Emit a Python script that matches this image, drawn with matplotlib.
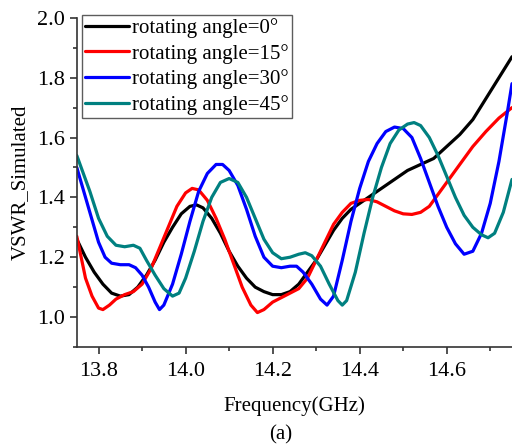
import numpy as np
import matplotlib
matplotlib.use('Agg')
import matplotlib.pyplot as plt
from matplotlib.ticker import MultipleLocator

plt.rcParams['font.family'] = ['Liberation Serif', 'DejaVu Serif']

# ---------------------------------------------------------------
# data (frequency in GHz, VSWR)
# ---------------------------------------------------------------
f_0 = [13.75, 13.77, 13.79, 13.81, 13.83, 13.85, 13.87, 13.89, 13.91, 13.93,
       13.95, 13.97, 13.99, 14.01, 14.025, 14.04, 14.06, 14.08, 14.10, 14.12,
       14.14, 14.16, 14.18, 14.20, 14.22, 14.24, 14.26, 14.28, 14.30, 14.32,
       14.34, 14.36, 14.38, 14.40, 14.42, 14.45, 14.48, 14.51, 14.54, 14.57,
       14.60, 14.63, 14.66, 14.69, 14.72, 14.75]
v_0 = [1.26, 1.20, 1.15, 1.11, 1.08, 1.07, 1.075, 1.10, 1.14, 1.19,
       1.25, 1.30, 1.345, 1.37, 1.375, 1.365, 1.33, 1.28, 1.22, 1.17,
       1.13, 1.10, 1.085, 1.075, 1.075, 1.085, 1.11, 1.15, 1.19, 1.24,
       1.29, 1.33, 1.36, 1.38, 1.40, 1.43, 1.46, 1.49, 1.51, 1.53,
       1.57, 1.61, 1.66, 1.73, 1.80, 1.87]

f_15 = [13.75, 13.76, 13.77, 13.785, 13.80, 13.81, 13.825, 13.84, 13.86, 13.88,
        13.90, 13.92, 13.94, 13.96, 13.98, 14.00, 14.015, 14.03, 14.05, 14.07,
        14.09, 14.11, 14.13, 14.15, 14.165, 14.18, 14.20, 14.22, 14.24, 14.26,
        14.28, 14.30, 14.32, 14.34, 14.36, 14.38, 14.40, 14.42, 14.44, 14.46,
        14.48, 14.50, 14.52, 14.54, 14.56, 14.58, 14.60, 14.63, 14.66, 14.69,
        14.72, 14.75]
v_15 = [1.27, 1.20, 1.13, 1.07, 1.03, 1.025, 1.04, 1.06, 1.075, 1.085,
        1.11, 1.16, 1.23, 1.30, 1.37, 1.415, 1.43, 1.425, 1.39, 1.33,
        1.26, 1.18, 1.10, 1.04, 1.015, 1.025, 1.05, 1.065, 1.08, 1.095,
        1.13, 1.19, 1.25, 1.31, 1.35, 1.38, 1.39, 1.393, 1.385, 1.37,
        1.355, 1.345, 1.343, 1.35, 1.37, 1.41, 1.45, 1.51, 1.57, 1.62,
        1.665, 1.70]

f_30 = [13.75, 13.76, 13.78, 13.80, 13.815, 13.83, 13.85, 13.87, 13.885, 13.90,
        13.915, 13.93, 13.94, 13.95, 13.97, 13.99, 14.01, 14.03, 14.05, 14.07,
        14.085, 14.10, 14.12, 14.14, 14.16, 14.18, 14.20, 14.22, 14.24, 14.255,
        14.27, 14.29, 14.31, 14.325, 14.34, 14.36, 14.38, 14.40, 14.42, 14.44,
        14.46, 14.48, 14.50, 14.52, 14.54, 14.56, 14.58, 14.60, 14.62, 14.64,
        14.66, 14.68, 14.70, 14.72, 14.74, 14.75]
v_30 = [1.50, 1.45, 1.35, 1.25, 1.20, 1.18, 1.175, 1.175, 1.165, 1.14,
        1.10, 1.05, 1.025, 1.04, 1.11, 1.21, 1.32, 1.42, 1.48, 1.51,
        1.51, 1.49, 1.44, 1.36, 1.27, 1.20, 1.17, 1.165, 1.17, 1.17,
        1.15, 1.11, 1.06, 1.04, 1.07, 1.19, 1.32, 1.43, 1.52, 1.58,
        1.62, 1.635, 1.63, 1.60, 1.53, 1.45, 1.37, 1.30, 1.245, 1.21,
        1.22, 1.28, 1.38, 1.52, 1.69, 1.78]

f_45 = [13.75, 13.76, 13.78, 13.80, 13.82, 13.84, 13.86, 13.88, 13.895, 13.91,
        13.93, 13.95, 13.97, 13.985, 14.00, 14.02, 14.04, 14.06, 14.08, 14.10,
        14.12, 14.14, 14.16, 14.18, 14.20, 14.22, 14.24, 14.26, 14.275, 14.29,
        14.31, 14.33, 14.35, 14.36, 14.37, 14.39, 14.41, 14.43, 14.45, 14.47,
        14.49, 14.51, 14.525, 14.54, 14.56, 14.58, 14.60, 14.62, 14.64, 14.66,
        14.68, 14.695, 14.71, 14.73, 14.75]
v_45 = [1.54, 1.50, 1.42, 1.33, 1.27, 1.24, 1.235, 1.24, 1.23, 1.19,
        1.14, 1.095, 1.07, 1.08, 1.13, 1.22, 1.32, 1.40, 1.45, 1.463,
        1.45, 1.40, 1.33, 1.26, 1.215, 1.195, 1.20, 1.21, 1.215, 1.205,
        1.17, 1.11, 1.055, 1.04, 1.055, 1.15, 1.28, 1.40, 1.50, 1.58,
        1.625, 1.645, 1.65, 1.64, 1.60, 1.54, 1.47, 1.40, 1.34, 1.30,
        1.275, 1.265, 1.28, 1.35, 1.46]

labels = ['rotating angle=0°', 'rotating angle=15°',
          'rotating angle=30°', 'rotating angle=45°']
colors = ['#000000', '#ff0000', '#0000ff', '#008080']

fig = plt.figure(figsize=(5.12, 4.46), dpi=100)
ax = fig.add_axes([0.150, 0.222, 0.850, 0.738])

series = [(f_0, v_0), (f_15, v_15), (f_30, v_30), (f_45, v_45)]
for (f, v), lab, c in zip(series, labels, colors):
    ax.plot(f, v, color=c, lw=2.3, label=lab,
            solid_joinstyle='round', solid_capstyle='round')

ax.set_xlim(13.75, 14.75)
ax.set_ylim(0.9, 2.0)
ax.set_xticks([13.8, 14.0, 14.2, 14.4, 14.6])
ax.set_yticks([1.0, 1.2, 1.4, 1.6, 1.8, 2.0])
ax.xaxis.set_minor_locator(MultipleLocator(0.1))
ax.yaxis.set_minor_locator(MultipleLocator(0.1))
ax.tick_params(which='major', direction='out', length=5, width=1.2,
               labelsize=16, color='#333333')
ax.tick_params(which='minor', direction='out', length=3, width=1.2,
               color='#333333')
ax.tick_params(axis='x', pad=6)
ax.spines['top'].set_visible(False)
ax.spines['right'].set_visible(False)
for s in ('left', 'bottom'):
    ax.spines[s].set_linewidth(1.2)
    ax.spines[s].set_color('#333333')

ax.set_xlabel('Frequency(GHz)', fontsize=15, labelpad=11)
ax.set_ylabel('VSWR_Simulated', fontsize=15, labelpad=5)

leg = ax.legend(loc='upper left', bbox_to_anchor=(0.0, 1.025), fontsize=15,
                frameon=True, fancybox=False, edgecolor='#333333',
                handlelength=2.1, handletextpad=0.15, labelspacing=0.28,
                borderpad=0.15, borderaxespad=0.25)
leg.get_frame().set_linewidth(1.0)

fig.text(0.549, 0.025, '(a)', fontsize=15, ha='center', va='center')

fig.savefig('out.png', dpi=100)
